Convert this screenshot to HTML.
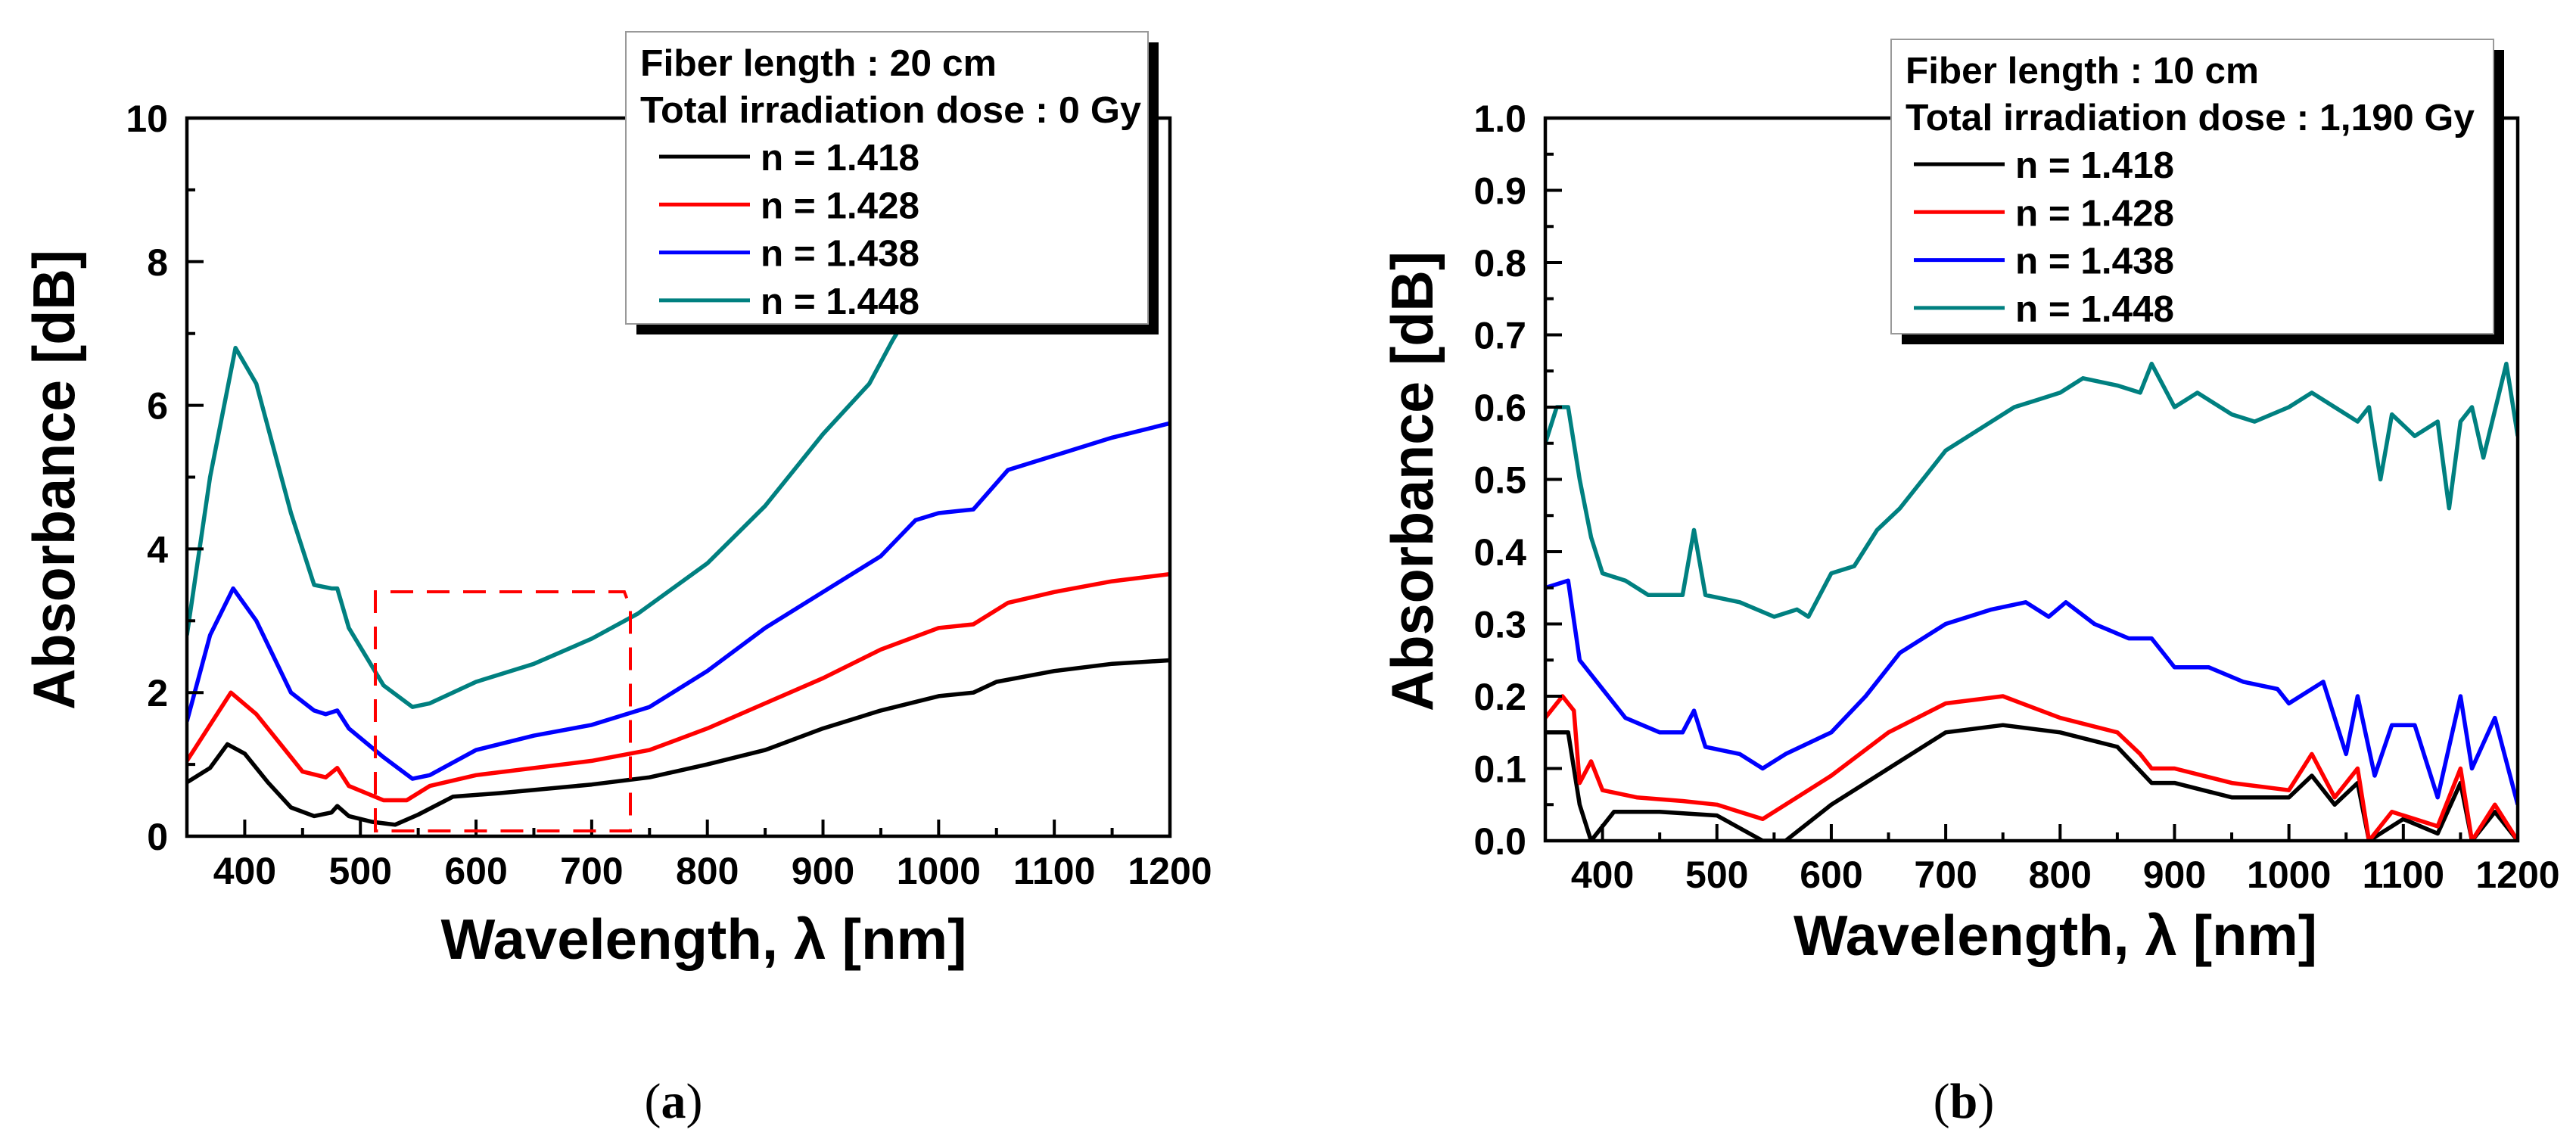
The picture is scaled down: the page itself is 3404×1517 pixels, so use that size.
<!DOCTYPE html>
<html><head><meta charset="utf-8"><style>
html,body{margin:0;padding:0;background:#fff;}
svg{display:block;font-family:"Liberation Sans",Arial,sans-serif;}
</style></head><body>
<svg id="fig" width="3404" height="1517" viewBox="0 0 3404 1517" xmlns="http://www.w3.org/2000/svg">
<defs>
<clipPath id="clipA"><rect x="247" y="156" width="1299" height="949"/></clipPath>
<clipPath id="clipB"><rect x="2042" y="156" width="1285" height="955"/></clipPath>
</defs>
<g id="panelA"></g>
<g id="panelB"></g>
</svg>
<script>
// ---- Panel (a) data ----
const aBlackX = [350,370,385,400,420,440,460,475,480,490,510,530,550,580,620,700,750,800,850,900,950,1000,1030,1050,1100,1150,1200];
const aBlackY = [0.75,0.95,1.28,1.15,0.75,0.4,0.28,0.33,0.42,0.28,0.2,0.16,0.3,0.55,0.6,0.72,0.82,1.0,1.2,1.5,1.75,1.95,2.0,2.15,2.3,2.4,2.45];
const aRedX = [350,370,388,410,430,450,470,480,490,520,540,560,600,700,750,800,850,900,950,1000,1030,1060,1100,1150,1200];
const aRedY = [1.05,1.55,2.0,1.7,1.3,0.9,0.82,0.95,0.7,0.5,0.5,0.7,0.85,1.05,1.2,1.5,1.85,2.2,2.6,2.9,2.95,3.25,3.4,3.55,3.65];
const aBlueX = [350,370,390,410,440,460,470,480,490,520,545,560,600,650,700,750,800,850,900,950,980,1000,1030,1060,1100,1150,1200];
const aBlueY = [1.6,2.8,3.45,3.0,2.0,1.75,1.7,1.75,1.5,1.1,0.8,0.85,1.2,1.4,1.55,1.8,2.3,2.9,3.4,3.9,4.4,4.5,4.55,5.1,5.3,5.55,5.75];
const aTealX = [350,370,392,410,440,460,475,480,490,520,545,560,600,650,700,740,800,850,900,940,960,975,1000,1060,1100];
const aTealY = [2.8,5.0,6.8,6.3,4.5,3.5,3.45,3.45,2.9,2.1,1.8,1.85,2.15,2.4,2.75,3.1,3.8,4.6,5.6,6.3,6.9,7.3,8.0,9.2,10.2];
const aXTicks = [400,500,600,700,800,900,1000,1100,1200];
const aYTicks = [0,2,4,6,8,10];
// ---- Panel (b) data ----
const bTealX = [350,360,370,380,390,400,420,440,470,480,490,520,550,570,580,600,620,640,660,680,700,720,740,760,780,800,820,850,870,880,900,920,950,970,1000,1020,1040,1060,1070,1080,1090,1110,1130,1140,1150,1160,1170,1190,1200];
const bTealY = [0.55,0.6,0.6,0.5,0.42,0.37,0.36,0.34,0.34,0.43,0.34,0.33,0.31,0.32,0.31,0.37,0.38,0.43,0.46,0.5,0.54,0.56,0.58,0.6,0.61,0.62,0.64,0.63,0.62,0.66,0.6,0.62,0.59,0.58,0.6,0.62,0.6,0.58,0.6,0.5,0.59,0.56,0.58,0.46,0.58,0.6,0.53,0.66,0.56];
const bBlueX = [350,370,380,400,420,450,470,480,490,520,540,560,600,630,660,700,740,770,790,805,830,860,880,900,930,960,990,1000,1030,1050,1060,1075,1090,1110,1130,1150,1160,1180,1200];
const bBlueY = [0.35,0.36,0.25,0.21,0.17,0.15,0.15,0.18,0.13,0.12,0.1,0.12,0.15,0.2,0.26,0.3,0.32,0.33,0.31,0.33,0.3,0.28,0.28,0.24,0.24,0.22,0.21,0.19,0.22,0.12,0.2,0.09,0.16,0.16,0.06,0.2,0.1,0.17,0.05];
const bRedX = [350,365,375,380,390,400,430,470,500,540,570,600,650,700,750,800,850,870,880,900,950,1000,1020,1040,1060,1070,1090,1110,1130,1150,1160,1180,1200];
const bRedY = [0.17,0.2,0.18,0.08,0.11,0.07,0.06,0.055,0.05,0.03,0.06,0.09,0.15,0.19,0.2,0.17,0.15,0.12,0.1,0.1,0.08,0.07,0.12,0.06,0.1,0.0,0.04,0.03,0.02,0.1,0.0,0.05,0.0];
const bBlackX = [350,370,380,390,410,450,500,540,560,600,650,700,750,800,850,880,900,950,1000,1020,1040,1060,1070,1100,1130,1150,1160,1180,1200];
const bBlackY = [0.15,0.15,0.05,0.0,0.04,0.04,0.035,0.0,0.0,0.05,0.1,0.15,0.16,0.15,0.13,0.08,0.08,0.06,0.06,0.09,0.05,0.08,0.0,0.03,0.01,0.08,0.0,0.04,0.0];
const bXTicks = [400,500,600,700,800,900,1000,1100,1200];
const bYTicks = [0,0.1,0.2,0.3,0.4,0.5,0.6,0.7,0.8,0.9,1.0];
const legendLabels = ["n = 1.418","n = 1.428","n = 1.438","n = 1.448"];
const colors = ["#000000","#ff0000","#0000ff","#008080"];

const NS = "http://www.w3.org/2000/svg";
function mk(parent, tag, attrs, text){
  const e = document.createElementNS(NS, tag);
  for (const k in attrs) e.setAttribute(k, attrs[k]);
  if (text !== undefined) e.textContent = text;
  parent.appendChild(e);
  return e;
}

function drawPanel(g, cfg){
  const sx = v => cfg.x0 + (v - 350) / 850 * (cfg.x1 - cfg.x0);
  const sy = v => cfg.y0 - (v - cfg.ymin) / (cfg.ymax - cfg.ymin) * (cfg.y0 - cfg.y1);
  // series
  const sg = mk(g, "g", {"clip-path": cfg.clip});
  
  
  cfg.series.forEach((s, i) => {
    let d = "";
    s.x.forEach((xv, j) => { d += (j ? "L" : "M") + sx(xv).toFixed(1) + "," + sy(s.y[j]).toFixed(1); });
    const p = mk(sg, "path", {d: d, fill: "none", stroke: colors[i], "stroke-width": 5.5, "stroke-linejoin": "round"});
    
    
  });
  // frame
  const fr = mk(g, "rect", {x: cfg.x0, y: cfg.y1, width: cfg.x1 - cfg.x0, height: cfg.y0 - cfg.y1, fill: "none", stroke: "#000", "stroke-width": 4.5});
  
  
  // x ticks
  for (let v = 400; v <= 1200; v += 50) {
    const major = v % 100 === 0;
    mk(g, "line", {x1: sx(v), x2: sx(v), y1: cfg.y0, y2: cfg.y0 - (major ? 22 : 11), stroke: "#000", "stroke-width": 4});
  }
  cfg.xticks.forEach(v => {
    const t = mk(g, "text", {x: sx(v), y: cfg.xlabY, "text-anchor": "middle", "font-size": 50, "font-weight": "bold"}, String(v));
    
    
  });
  // y ticks
  const minor = cfg.yminor;
  for (let k = 0; k * minor <= cfg.ymax - cfg.ymin + 1e-9; k++) {
    const v = cfg.ymin + k * minor;
    const major = k % 2 === 0;
    mk(g, "line", {x1: cfg.x0, x2: cfg.x0 + (major ? 22 : 11), y1: sy(v), y2: sy(v), stroke: "#000", "stroke-width": 4});
  }
  cfg.yticks.forEach(v => {
    const t = mk(g, "text", {x: cfg.ylabX, y: sy(v) + 18, "text-anchor": "end", "font-size": 50, "font-weight": "bold"}, cfg.yfmt(v));
    
    
  });
  // axis titles
  const xt = mk(g, "text", {x: cfg.xtX, y: cfg.xtY, "text-anchor": "middle", "font-size": 75, "font-weight": "bold", textLength: cfg.xtLen, lengthAdjust: "spacingAndGlyphs"}, "Wavelength, \u03bb [nm]");
  
  
  const yt = mk(g, "text", {x: 0, y: 0, "text-anchor": "middle", "font-size": 78, "font-weight": "bold", textLength: 608, lengthAdjust: "spacingAndGlyphs", transform: "translate(" + cfg.ytX + "," + cfg.ytY + ") rotate(-90)"}, "Absorbance [dB]");
  
  
  // legend
  const L = cfg.leg;
  const lg = mk(g, "g", {});
  
  
  mk(lg, "rect", {x: L.x + 14, y: L.y + 14, width: L.w, height: L.h, fill: "#000"});
  mk(lg, "rect", {x: L.x, y: L.y, width: L.w, height: L.h, fill: "#fff", stroke: "#999", "stroke-width": 2});
  const t1 = mk(lg, "text", {x: L.x + 19, y: L.y + 58, "font-size": 49, "font-weight": "bold", textLength: L.l1, lengthAdjust: "spacingAndGlyphs"}, L.t1);
  
  
  const t2 = mk(lg, "text", {x: L.x + 19, y: L.y + 120, "font-size": 49, "font-weight": "bold", textLength: L.l2, lengthAdjust: "spacingAndGlyphs"}, L.t2);
  
  
  legendLabels.forEach((lab, i) => {
    const by = L.y + 183 + i * 63.3;
    const ln = mk(lg, "line", {x1: L.lx, x2: L.lx + 120, y1: by - 18, y2: by - 18, stroke: colors[i], "stroke-width": 5});
    
    
    const tt = mk(lg, "text", {x: L.lx + 134, y: by, "font-size": 49, "font-weight": "bold", textLength: 210, lengthAdjust: "spacingAndGlyphs"}, lab);
    
    
  });
  // caption
  const cap = mk(g, "text", {x: cfg.capX, y: 1477, "text-anchor": "middle", "font-size": 66, "font-family": "Liberation Serif, serif"}, "");
  
  
  mk(cap, "tspan", {}, "(");
  mk(cap, "tspan", {"font-weight": "bold"}, cfg.cap);
  mk(cap, "tspan", {}, ")");
}

drawPanel(document.getElementById("panelA"), {
  x0: 247, x1: 1546, y0: 1105, y1: 156, ymin: 0, ymax: 10, yminor: 1, clip: "url(#clipA)",
  series: [{x: aBlackX, y: aBlackY}, {x: aRedX, y: aRedY}, {x: aBlueX, y: aBlueY}, {x: aTealX, y: aTealY}],
  xticks: aXTicks, yticks: aYTicks, yfmt: v => String(v), xlabY: 1168, ylabX: 222,
  xtX: 930, xtY: 1267, xtLen: 695, ytX: 98, ytY: 634,
  leg: {x: 827, y: 42, w: 690, h: 386, t1: "Fiber length : 20 cm", t2: "Total irradiation dose : 0 Gy", l1: 471, l2: 662, lx: 871},
  capX: 890, cap: "a"
});
drawPanel(document.getElementById("panelB"), {
  x0: 2042, x1: 3327, y0: 1111, y1: 156, ymin: 0, ymax: 1, yminor: 0.05, clip: "url(#clipB)",
  series: [{x: bBlackX, y: bBlackY}, {x: bRedX, y: bRedY}, {x: bBlueX, y: bBlueY}, {x: bTealX, y: bTealY}],
  xticks: bXTicks, yticks: bYTicks, yfmt: v => v.toFixed(1), xlabY: 1173, ylabX: 2017,
  xtX: 2716, xtY: 1262, xtLen: 692, ytX: 1893, ytY: 636,
  leg: {x: 2499, y: 52, w: 796, h: 389, t1: "Fiber length : 10 cm", t2: "Total irradiation dose : 1,190 Gy", l1: 467, l2: 752, lx: 2529},
  capX: 2595, cap: "b"
});
// dashed zoom box in panel (a)
const dz = mk(document.getElementById("panelA"), "path", {d: "M496,1098 V782 H825 L833,803 V1098 Z", fill: "none", stroke: "#ff0000", "stroke-width": 4, "stroke-dasharray": "30,18"});


</script>
</body></html>
